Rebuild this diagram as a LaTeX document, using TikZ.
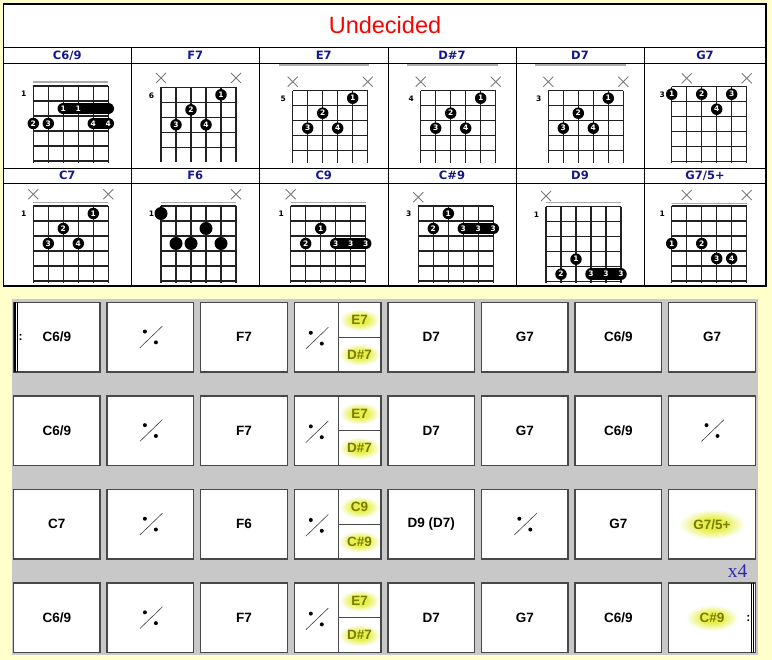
\documentclass[tikz,border=0pt]{standalone}
\usepackage{fontspec}
\setmainfont{Liberation Sans}
\newfontfamily\dvs{DejaVu Sans}
\newfontfamily\tms{Liberation Serif}
\definecolor{bgy}{HTML}{FFFFCC}
\definecolor{secgray}{HTML}{C8C8C8}
\definecolor{hblue}{HTML}{16168E}
\definecolor{olivet}{HTML}{7A7A00}
\definecolor{glowc}{HTML}{E6F04A}
\definecolor{boxln}{HTML}{484848}
\definecolor{xgray}{HTML}{7A7A7A}
\definecolor{nutgray}{HTML}{ABABAB}
\definecolor{gridc}{HTML}{222222}
\definecolor{x4blue}{HTML}{2A2AB0}
\pgfdeclareradialshading{glowsh}{\pgfpoint{0bp}{0bp}}{color(0bp)=(glowc); color(10bp)=(glowc); color(25bp)=(white); color(50bp)=(white)}
\newcount\nodecnt
% chord diagram helpers (local coordinates: grid top-left = origin)
\newcommand\cgrid[1]{\begin{scope}\clip (-2,-1) rectangle (77,#1);
 \foreach \s in {0,...,5}{\draw[gridln] (15*\s,0) -- (15*\s,80);}
 \foreach \f in {0,...,5}{\draw[gridln] (0,15*\f) -- (75,15*\f);}
 \end{scope}}
\newcommand\fingerdot[3]{\global\advance\nodecnt by 1\relax
 \node[fdot] (k\the\nodecnt) at ({15*(#1-1)},{15*(#2-0.5)}) {#3};}
\newcommand\plaindot[2]{\global\advance\nodecnt by 1\relax
 \node[pdot] (k\the\nodecnt) at ({15*(#1-1)},{15*(#2-0.5)}) {};}
\newcommand\barrebar[3]{\draw[line width=11.5pt,line cap=round] ({15*(#1-1)},{15*(#3-0.5)}) -- ({15*(#2-1)},{15*(#3-0.5)});}
\newcommand\barrelab[3]{\global\advance\nodecnt by 1\relax
 \node[fnum] (k\the\nodecnt) at ({15*(#1-1)},{15*(#2-0.5)}) {#3};}
\newcommand\xmk[2]{\draw[xmk] ({15*(#1-1)-5},{#2-5}) -- ++(10,10) ({15*(#1-1)-5},{#2+5}) -- ++(10,-10);}
\newcommand\fretlab[1]{\global\advance\nodecnt by 1\relax
 \node[flab] (k\the\nodecnt) at (-9.5,8.2) {#1};}
% bar grid helpers
\newcommand\rsign[2]{\draw[repln] ({#1-10.5},{#2+10.7}) -- ({#1+12},{#2-11});
 \fill ({#1-5.5},{#2-5.5}) circle (2); \fill ({#1+5.5},{#2+5.3}) circle (2);}
\newcommand\chbox[3]{\pgfmathsetmacro\bL{13.5+93.6*#1}\pgfmathsetmacro\bT{302.3+93.6*#2}
 \fill[white] (\bL,\bT) rectangle ++(86.6,69.5);
 \draw[boxst] (\bL,\bT) rectangle ++(86.6,69.5);
 \node[ctxt] (b#2-#1) at (\bL+43.3,\bT+34.75) {#3};}
\newcommand\repbox[2]{\pgfmathsetmacro\bL{13.5+93.6*#1}\pgfmathsetmacro\bT{302.3+93.6*#2}
 \fill[white] (\bL,\bT) rectangle ++(86.6,69.5);
 \draw[boxst] (\bL,\bT) rectangle ++(86.6,69.5);
 \coordinate (b#2-#1) at (\bL+43.3,\bT+34.75);
 \rsign{\bL+43.3}{\bT+34.75}}
\newcommand\hlbox[5]{\pgfmathsetmacro\bL{13.5+93.6*#1}\pgfmathsetmacro\bT{302.3+93.6*#2}
 \fill[white] (\bL,\bT) rectangle ++(86.6,69.5);
 \begin{scope}\clip (\bL,\bT) rectangle ++(86.6,69.5);
 \shade[shading=glowsh] (\bL+43.3,\bT+34.75) ellipse (#4 and #5);\end{scope}
 \draw[boxst] (\bL,\bT) rectangle ++(86.6,69.5);
 \node[hitxt] (b#2-#1) at (\bL+43.3,\bT+34.75) {#3};}
\newcommand\splitbox[4]{\pgfmathsetmacro\bL{13.5+93.6*#1}\pgfmathsetmacro\bT{302.3+93.6*#2}
 \pgfmathsetmacro\bM{\bL+44}\pgfmathsetmacro\bR{\bL+86.6}\pgfmathsetmacro\bC{(\bM+\bR)/2}
 \fill[white] (\bL,\bT) rectangle ++(86.6,69.5);
 \begin{scope}\clip (\bM,\bT) rectangle (\bR,\bT+34.75);
 \shade[shading=glowsh] (\bC,\bT+17.6) ellipse (20 and 11);\end{scope}
 \begin{scope}\clip (\bM,\bT+34.75) rectangle (\bR,\bT+69.5);
 \shade[shading=glowsh] (\bC,\bT+52.2) ellipse (21 and 11);\end{scope}
 \draw[boxst] (\bL,\bT) rectangle ++(86.6,69.5);
 \draw[splitln] (\bM,\bT) -- (\bM,\bT+69.5) (\bM,\bT+34.75) -- (\bR,\bT+34.75);
 \rsign{\bL+22}{\bT+36}
 \node[hitxt] (b#2-#1t) at (\bC,\bT+17.6) {#3};
 \node[hitxt] (b#2-#1b) at (\bC,\bT+52.2) {#4};}
\begin{document}
\begin{tikzpicture}[x=1pt,y=-1pt,
 gridln/.style={line width=1.2pt,draw=gridc},
 fdot/.style={circle,fill=black,text=white,inner sep=0pt,minimum size=11.5pt,font=\dvs\bfseries\fontsize{7.5}{8}\selectfont},
 pdot/.style={circle,fill=black,inner sep=0pt,minimum size=13pt},
 fnum/.style={text=white,inner sep=0pt,font=\dvs\bfseries\fontsize{7.5}{8}\selectfont},
 flab/.style={inner sep=0pt,font=\dvs\bfseries\fontsize{7.5}{8}\selectfont},
 xmk/.style={draw=xgray,line width=0.9pt},
 nutln/.style={draw=nutgray,line width=1.1pt},
 tblln/.style={line width=0.9pt},
 hdr/.style={text=hblue,inner sep=0pt,font=\dvs\bfseries\fontsize{11.5}{12}\selectfont},
 ctxt/.style={inner sep=0pt,font=\bfseries\fontsize{13.5}{14}\selectfont},
 hitxt/.style={text=olivet,inner sep=0pt,font=\bfseries\fontsize{13.5}{14}\selectfont},
 boxst/.style={draw=boxln,line width=1.5pt},
 splitln/.style={draw=boxln,line width=1pt},
 repln/.style={draw=black!75,line width=0.6pt},
 colonst/.style={inner sep=0pt,font=\bfseries\fontsize{12}{12}\selectfont}]
\fill[bgy] (0,0) rectangle (772,660);
\useasboundingbox (0,0) rectangle (772,660);
% ---------- chord table ----------
\fill[white] (3.5,4) rectangle (766,286);
\foreach \y in {47,63,168,183}{\draw[tblln] (3.5,\y) -- (766,\y);}
\foreach \x in {131,259.5,388,516,644}{\draw[tblln] (\x,47) -- (\x,286);}
\draw[line width=1.2pt] (3.5,4) rectangle (766,286);
\node[text=red,inner sep=0pt,font=\fontsize{23.5}{24}\selectfont] (title) at (385,25) {Undecided};
\node[hdr] (h1) at (67.25,55.5) {C6/9};
\node[hdr] (h2) at (195.25,55.5) {F7};
\node[hdr] (h3) at (323.75,55.5) {E7};
\node[hdr] (h4) at (452,55.5) {D\#7};
\node[hdr] (h5) at (580,55.5) {D7};
\node[hdr] (h6) at (705,55.5) {G7};
\node[hdr] (h7) at (67.25,175.7) {C7};
\node[hdr] (h8) at (195.25,175.7) {F6};
\node[hdr] (h9) at (323.75,175.7) {C9};
\node[hdr] (h10) at (452,175.7) {C\#9};
\node[hdr] (h11) at (580,175.7) {D9};
\node[hdr] (h12) at (705,175.7) {G7/5+};
% C6/9
\begin{scope}[shift={(33.3,86)}]
\cgrid{76.5}
\draw[nutln] (0,-4) -- (75,-4);
\fretlab{1}
\barrebar{3}{6}{2}\barrelab{3}{2}{1}\barrelab{4}{2}{1}
\fingerdot{1}{3}{2}\fingerdot{2}{3}{3}
\barrebar{5}{6}{3}\barrelab{5}{3}{4}\barrelab{6}{3}{4}
\end{scope}
% F7
\begin{scope}[shift={(161,87.3)}]
\cgrid{74.7}
\xmk{1}{-9.3}\xmk{6}{-9.3}
\fretlab{6}
\fingerdot{5}{1}{1}\fingerdot{3}{2}{2}\fingerdot{2}{3}{3}\fingerdot{4}{3}{4}
\end{scope}
% E7
\begin{scope}[shift={(292.7,90.7)}]
\cgrid{71.8}
\draw[nutln] (-13.7,-25.7) -- (76.3,-25.7);
\xmk{1}{-9}\xmk{6}{-9}
\fretlab{5}
\fingerdot{5}{1}{1}\fingerdot{3}{2}{2}\fingerdot{2}{3}{3}\fingerdot{4}{3}{4}
\end{scope}
% D#7
\begin{scope}[shift={(420.7,90.7)}]
\cgrid{71.8}
\draw[nutln] (-14,-25.7) -- (77,-25.7);
\xmk{1}{-9}\xmk{6}{-9}
\fretlab{4}
\fingerdot{5}{1}{1}\fingerdot{3}{2}{2}\fingerdot{2}{3}{3}\fingerdot{4}{3}{4}
\end{scope}
% D7
\begin{scope}[shift={(548.3,90.7)}]
\cgrid{71.8}
\draw[nutln] (-13.3,-25.7) -- (77.4,-25.7);
\xmk{1}{-9}\xmk{6}{-9}
\fretlab{3}
\fingerdot{5}{1}{1}\fingerdot{3}{2}{2}\fingerdot{2}{3}{3}\fingerdot{4}{3}{4}
\end{scope}
% G7
\begin{scope}[shift={(671.7,86.7)}]
\cgrid{75.8}
\xmk{2}{-8.4}\xmk{6}{-8.4}
\fretlab{3}
\fingerdot{1}{1}{1}\fingerdot{3}{1}{2}\fingerdot{5}{1}{3}\fingerdot{4}{2}{4}
\end{scope}
% C7
\begin{scope}[shift={(33.3,206)}]
\cgrid{76.5}
\xmk{1}{-11.7}\xmk{6}{-11.7}
\draw[nutln] (0,-3.4) -- (75,-3.4);
\fretlab{1}
\fingerdot{5}{1}{1}\fingerdot{3}{2}{2}\fingerdot{2}{3}{3}\fingerdot{4}{3}{4}
\end{scope}
% F6
\begin{scope}[shift={(161,206)}]
\cgrid{76.5}
\xmk{6}{-11.7}
\draw[nutln] (0,-3.4) -- (75,-3.4);
\fretlab{1}
\plaindot{1}{1}\plaindot{2}{3}\plaindot{3}{3}\plaindot{4}{2}\plaindot{5}{3}
\end{scope}
% C9
\begin{scope}[shift={(290.7,206)}]
\cgrid{76.5}
\xmk{1}{-11.7}
\draw[nutln] (0,-3.4) -- (75,-3.4);
\fretlab{1}
\fingerdot{3}{2}{1}\fingerdot{2}{3}{2}
\barrebar{4}{6}{3}\barrelab{4}{3}{3}\barrelab{5}{3}{3}\barrelab{6}{3}{3}
\end{scope}
% C#9
\begin{scope}[shift={(418.3,206)}]
\cgrid{76.5}
\xmk{1}{-8.7}
\fretlab{3}
\fingerdot{3}{1}{1}\fingerdot{2}{2}{2}
\barrebar{4}{6}{2}\barrelab{4}{2}{3}\barrelab{5}{2}{3}\barrelab{6}{2}{3}
\end{scope}
% D9
\begin{scope}[shift={(546,206.7)}]
\cgrid{75.8}
\xmk{1}{-10.7}
\draw[nutln] (0,-4) -- (75,-4);
\fretlab{1}
\fingerdot{3}{4}{1}\fingerdot{2}{5}{2}
\barrebar{4}{6}{5}\barrelab{4}{5}{3}\barrelab{5}{5}{3}\barrelab{6}{5}{3}
\end{scope}
% G7/5+
\begin{scope}[shift={(671.7,206)}]
\cgrid{76.5}
\xmk{2}{-11}\xmk{6}{-11}
\draw[nutln] (0,-2.8) -- (75,-2.8);
\fretlab{1}
\fingerdot{1}{3}{1}\fingerdot{3}{3}{2}\fingerdot{4}{4}{3}\fingerdot{5}{4}{4}
\end{scope}
% ---------- bar grid ----------
\fill[secgray] (12,299) rectangle (758,655);
% row 1
\chbox{0}{0}{C6/9}\repbox{1}{0}\chbox{2}{0}{F7}\splitbox{3}{0}{E7}{D\#7}
\chbox{4}{0}{D7}\chbox{5}{0}{G7}\chbox{6}{0}{C6/9}\chbox{7}{0}{G7}
% row 2
\chbox{0}{1}{C6/9}\repbox{1}{1}\chbox{2}{1}{F7}\splitbox{3}{1}{E7}{D\#7}
\chbox{4}{1}{D7}\chbox{5}{1}{G7}\chbox{6}{1}{C6/9}\repbox{7}{1}
% row 3
\chbox{0}{2}{C7}\repbox{1}{2}\chbox{2}{2}{F6}\splitbox{3}{2}{C9}{C\#9}
\chbox{4}{2}{D9 (D7)}\repbox{5}{2}\chbox{6}{2}{G7}\hlbox{7}{2}{G7/5+}{33}{15}
% row 4
\chbox{0}{3}{C6/9}\repbox{1}{3}\chbox{2}{3}{F7}\splitbox{3}{3}{E7}{D\#7}
\chbox{4}{3}{D7}\chbox{5}{3}{G7}\chbox{6}{3}{C6/9}\hlbox{7}{3}{C\#9}{26}{13}
% repeat signs
\draw[line width=1.3pt] (15,302.3) -- (15,371.8);
\draw[line width=0.8pt] (17.7,302.3) -- (17.7,371.8);
\node[colonst] (rs) at (20.7,337.5) {:};
\draw[line width=0.8pt] (751,583.1) -- (751,652.6);
\draw[line width=1.5pt] (753.5,583.1) -- (753.5,652.6);
\node[colonst] (re) at (748.3,618.5) {:};
\node[text=x4blue,inner sep=0pt,anchor=base,font=\tms\fontsize{19.5}{20}\selectfont] (x4) at (737.5,577.3) {x4};
\end{tikzpicture}
\end{document}
